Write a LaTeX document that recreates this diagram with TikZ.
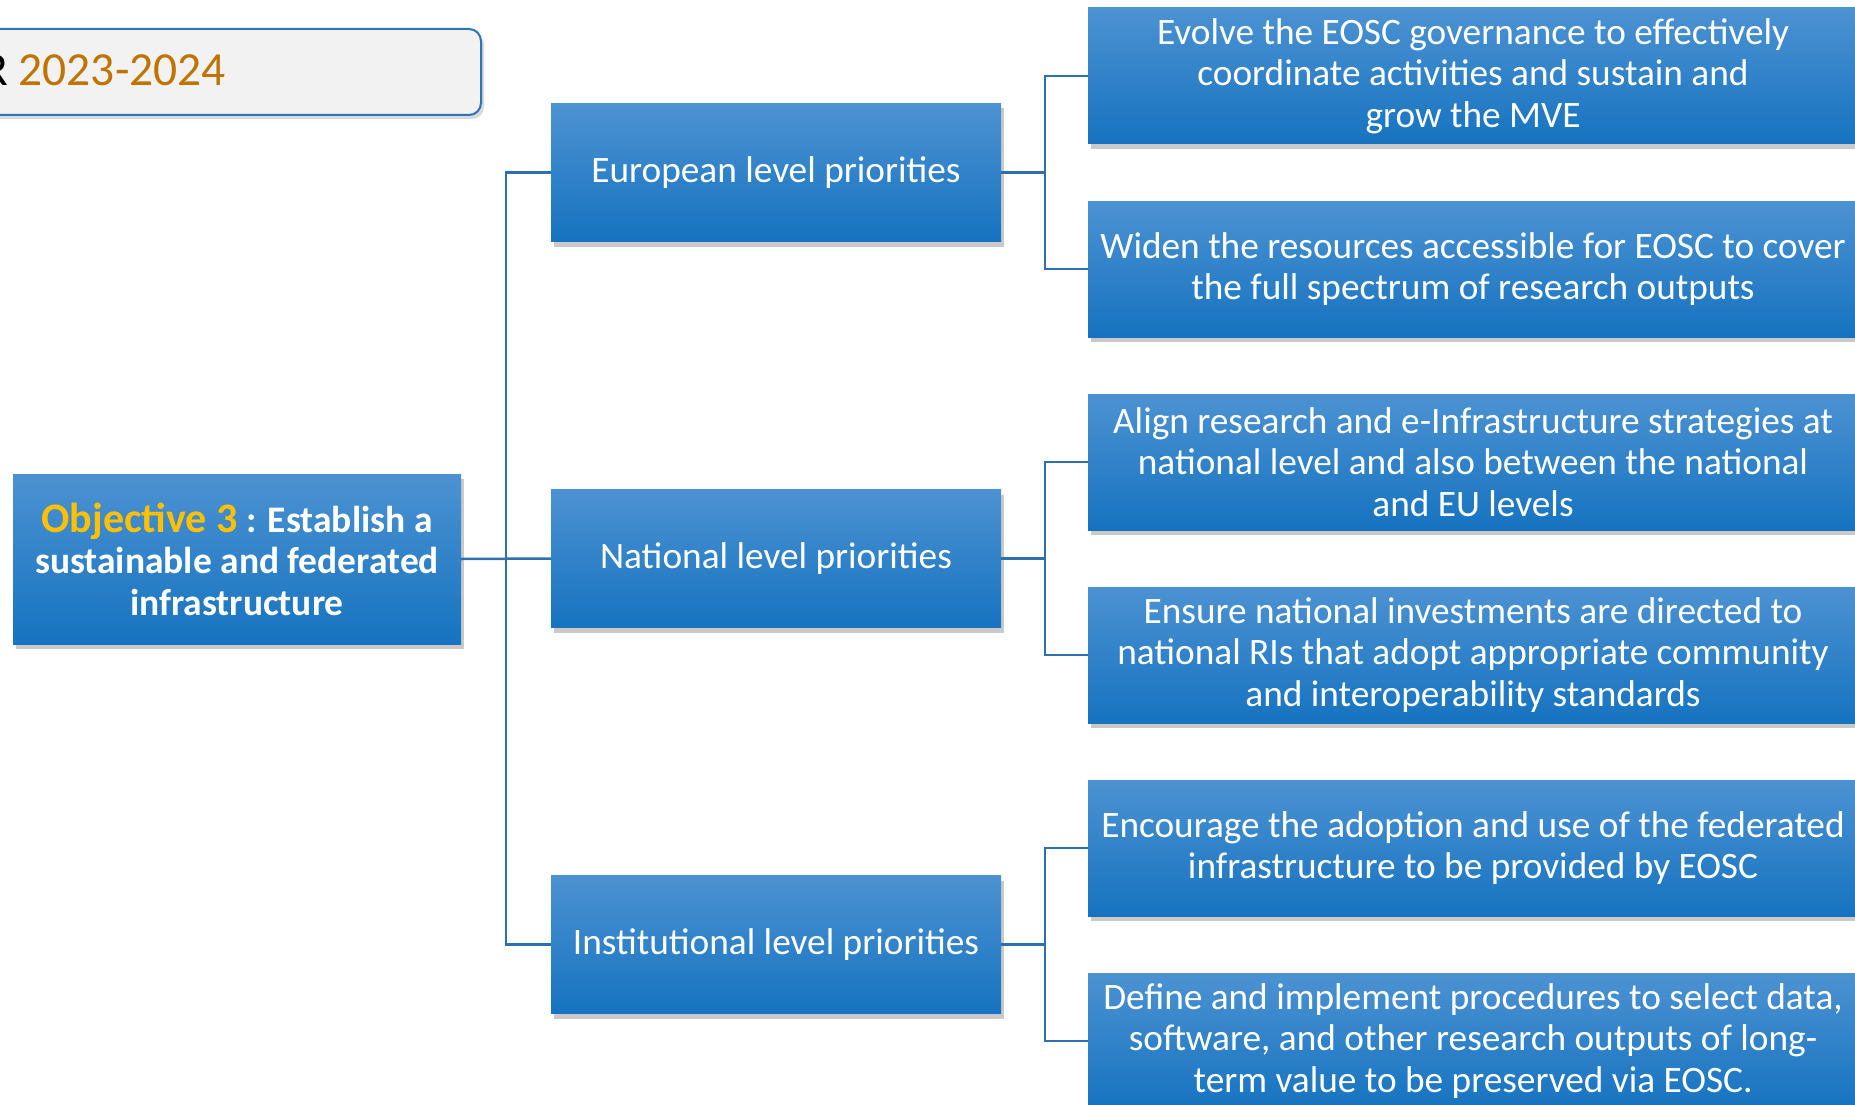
\documentclass[tikz,border=0pt]{standalone}
\usepackage{fontspec}
\setmainfont{Carlito}
\usetikzlibrary{shadows}
\definecolor{boxtop}{RGB}{76,146,210}
\definecolor{boxbot}{RGB}{22,115,192}
\definecolor{linkc}{RGB}{46,112,175}
\definecolor{yearc}{RGB}{192,116,0}
\definecolor{objc}{RGB}{255,192,0}
\definecolor{hdrfill}{RGB}{242,242,242}
\definecolor{hdrline}{RGB}{46,117,182}
\tikzset{
  bluebox/.style={rectangle, top color=boxtop, bottom color=boxbot, draw=none,
    text=white, align=center, inner sep=0pt,
    font=\fontsize{37.3}{41.5}\selectfont,
    drop shadow={shadow xshift=3pt, shadow yshift=-5pt, opacity=0.3, fill=black!70}},
  midbox/.style={bluebox, minimum width=450pt, minimum height=138pt},
  rbox/.style={bluebox, minimum width=770pt, minimum height=136pt},
  link/.style={draw=linkc, line width=2.5pt},
}
\begin{document}
\begin{tikzpicture}[x=1pt,y=-1pt]
\useasboundingbox (0,0) rectangle (1855,1105);
% header box
\node[draw=hdrline, line width=2pt, fill=hdrfill, rounded corners=12pt,
      minimum width=510pt, minimum height=86pt, anchor=north west,
      drop shadow={shadow xshift=3pt, shadow yshift=-4pt, opacity=0.3}] (hdr) at (-30,28) {};
\node[anchor=base west, inner sep=0pt, font=\fontsize{47.5}{50}\selectfont] (hdrtxt) at (-18,86)
  {R \textcolor{yearc}{2023-2024}};
% objective
\node[bluebox, minimum width=448pt, minimum height=170pt, font=\bfseries\fontsize{37.5}{41.5}\selectfont] (obj) at (237,559)
  {{\fontsize{42}{41.5}\selectfont\textcolor{objc}{Objective 3}} : Establish a\\sustainable and federated\\infrastructure};
% middle
\node[midbox] (eur) at (776,172.5) {European level priorities};
\node[midbox] (nat) at (776,558.5) {National level priorities};
\node[midbox] (ins) at (776,944.5) {Institutional level priorities};
% right
\node[rbox] (r1) at (1473,76) {Evolve the EOSC governance to effectively\\coordinate activities and sustain and\\grow the MVE};
\node[rbox] (r2) at (1473,269) {Widen the resources accessible for EOSC to cover\\the full spectrum of research outputs};
\node[rbox] (r3) at (1473,462) {Align research and e-Infrastructure strategies at\\national level and also between the national\\and EU levels};
\node[rbox] (r4) at (1473,655) {Ensure national investments are directed to\\national RIs that adopt appropriate community\\and interoperability standards};
\node[rbox] (r5) at (1473,848) {Encourage the adoption and use of the federated\\infrastructure to be provided by EOSC};
\node[rbox] (r6) at (1473,1041) {Define and implement procedures to select data,\\software, and other research outputs of long-\\term value to be preserved via EOSC.};
% connectors
\draw[link] (obj.east) -- (nat.west);
\draw[link] (eur.west) -- ++(-45,0) |- (ins.west);
\draw[link] (eur.east) -- ++(44,0);
\draw[link] (nat.east) -- ++(44,0);
\draw[link] (ins.east) -- ++(44,0);
\draw[link] (r1.west) -- ++(-43,0) |- (r2.west);
\draw[link] (r3.west) -- ++(-43,0) |- (r4.west);
\draw[link] (r5.west) -- ++(-43,0) |- (r6.west);
\end{tikzpicture}
\end{document}
